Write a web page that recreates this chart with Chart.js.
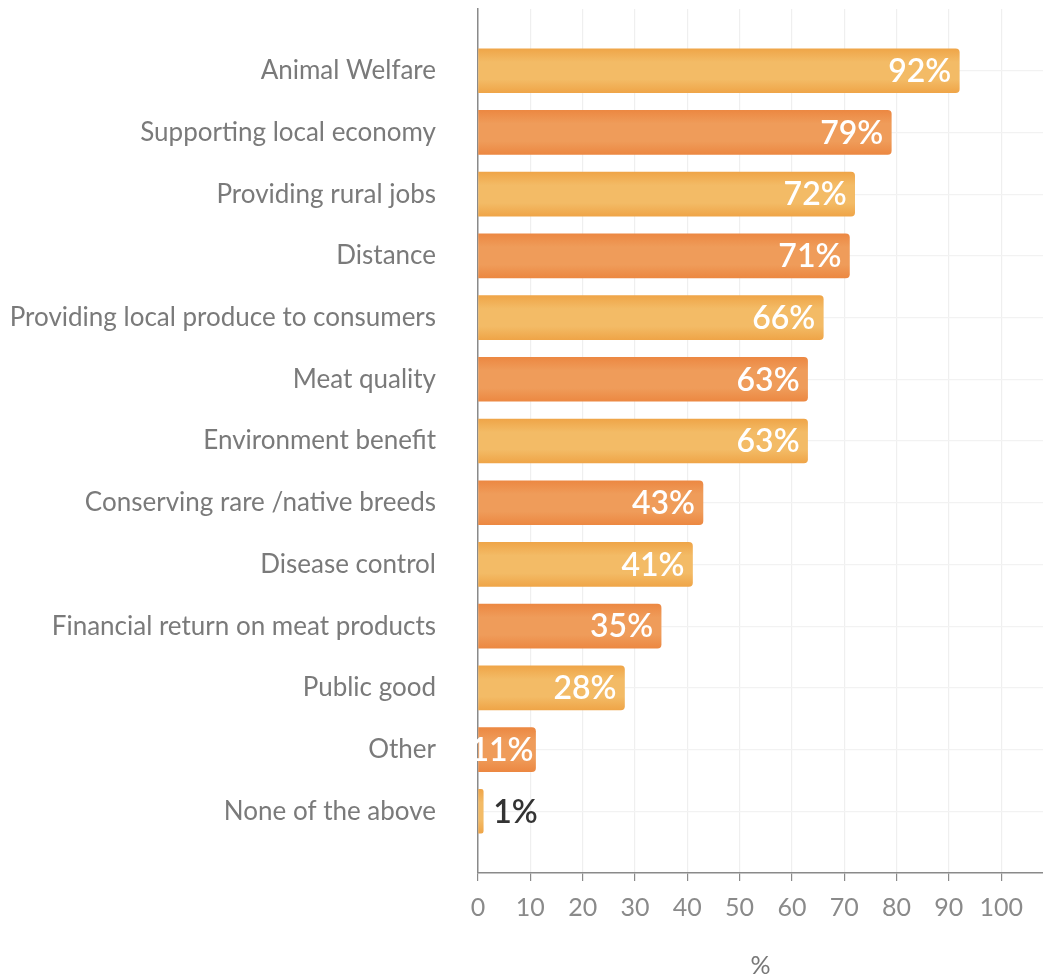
<!DOCTYPE html>
<html>
<head>
<meta charset="utf-8">
<script src="https://cdn.jsdelivr.net/npm/chart.js@4.4.1/dist/chart.umd.min.js"></script>
<style>
  html, body { margin: 0; padding: 0; background: #fff; }
  #wrap { width: 1043px; height: 978px; }
</style>
</head>
<body>
<div id="wrap"><canvas id="chart" width="1043" height="978"></canvas></div>
<script>
// Reasons for choosing, share of respondents (%)
const reasons = [
  "Animal Welfare",
  "Supporting local economy",
  "Providing rural jobs",
  "Distance",
  "Providing local produce to consumers",
  "Meat quality",
  "Environment benefit",
  "Conserving rare /native breeds",
  "Disease control",
  "Financial return on meat products",
  "Public good",
  "Other",
  "None of the above"
];
const shares = [92, 79, 72, 71, 66, 63, 63, 43, 41, 35, 28, 11, 1];
const xTicks = [0, 10, 20, 30, 40, 50, 60, 70, 80, 90, 100];

// light / dark orange, alternating row by row
const light = { edge: "#efa548", mid: "#f3bb66" };
const dark = { edge: "#ec8842", mid: "#ef9c5a" };

// a blank row above and below so the bars sit one band away from the edges
const rowLabels = [""].concat(reasons, [""]);
const rowData = [null].concat(shares, [null]);
const BAR = 44;

function barFill(ctx) {
  const chart = ctx.chart;
  const pal = (ctx.dataIndex - 1) % 2 === 0 ? light : dark;
  if (!chart.chartArea || !chart.scales.y) return pal.mid;
  const yc = chart.scales.y.getPixelForValue(ctx.dataIndex);
  const g = chart.ctx.createLinearGradient(0, yc - BAR / 2, 0, yc + BAR / 2);
  g.addColorStop(0, pal.edge);
  g.addColorStop(0.3, pal.mid);
  g.addColorStop(0.7, pal.mid);
  g.addColorStop(1, pal.edge);
  return g;
}

// value text at the end of each bar
const valueLabels = {
  id: "valueLabels",
  afterDatasetsDraw(chart) {
    const c = chart.ctx;
    const left = chart.chartArea.left;
    const meta = chart.getDatasetMeta(0);
    c.save();
    c.font = "600 32px Lato";
    c.textBaseline = "middle";
    meta.data.forEach((bar, i) => {
      const v = rowData[i];
      if (v === null) return;
      const txt = v + "%";
      if (v >= 5) {
        // short bars: squeeze the text against the bar end
        const w = c.measureText(txt).width;
        const x = Math.max(bar.x - 8, Math.min(bar.x - 2, left + 3 + w));
        c.fillStyle = "#ffffff";
        c.textAlign = "right";
        c.fillText(txt, x, bar.y + 1);
      } else {
        c.fillStyle = "#333333";
        c.textAlign = "left";
        c.fillText(txt, bar.x + 10, bar.y + 1);
      }
    });
    c.restore();
  }
};

new Chart(document.getElementById("chart"), {
  type: "bar",
  data: {
    labels: rowLabels,
    datasets: [{
      data: rowData,
      backgroundColor: barFill,
      barThickness: BAR,
      borderRadius: 4,
      borderSkipped: "start"
    }]
  },
  options: {
    indexAxis: "y",
    responsive: false,
    animation: false,
    devicePixelRatio: 1,
    layout: { padding: { top: 9, right: 0, bottom: 0, left: 0 } },
    plugins: {
      legend: { display: false },
      tooltip: { enabled: false }
    },
    scales: {
      x: {
        min: 0,
        max: 108,
        afterBuildTicks: (scale) => {
          scale.ticks = xTicks.map(v => ({ value: v }));
        },
        afterFit: (scale) => { scale.height = 105; },
        grid: {
          color: "#efefef",
          tickColor: "#8a8a8a",
          tickLength: 8,
          lineWidth: 1.2
        },
        border: { color: "#8a8a8a", width: 1.5 },
        ticks: {
          color: "#8a8a8a",
          font: { family: "Lato", size: 25 },
          padding: 12,
          maxRotation: 0
        },
        title: {
          display: true,
          text: "%",
          color: "#777777",
          font: { family: "Lato", size: 25 },
          padding: { top: 0, bottom: -3 }
        }
      },
      y: {
        offset: false,
        afterFit: (scale) => {
          scale.width = 478;
          // label padding is horizontal here; don't let it push the plot down
          scale.paddingTop = 0;
          scale.paddingBottom = 0;
        },
        grid: {
          offset: false,
          drawTicks: false,
          color: (ctx) => (ctx.index === 0 || ctx.index === rowLabels.length - 1) ? "rgba(0,0,0,0)" : "#f2f2f2",
          lineWidth: 1.2
        },
        border: { color: "#8a8a8a", width: 1.5 },
        ticks: {
          color: "#7a7a7a",
          font: { family: "Lato", size: 26 },
          padding: 42,
          autoSkip: false
        }
      }
    }
  },
  plugins: [valueLabels]
});
</script>
</body>
</html>
